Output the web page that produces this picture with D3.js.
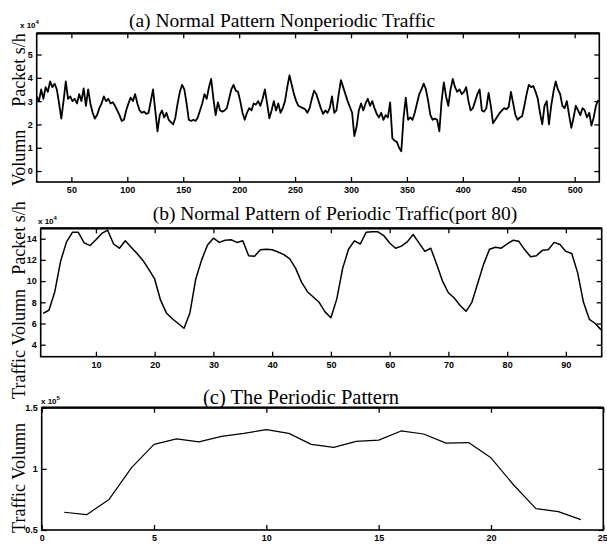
<!DOCTYPE html>
<html><head><meta charset="utf-8">
<script src="https://cdn.jsdelivr.net/npm/d3@7"></script>
<style>body{margin:0;background:#fff}</style>
</head><body><svg id="chart" width="607" height="546"></svg>
<script>
// ---------- DATA ----------
// (a) Normal Pattern Nonperiodic Traffic (x 10^4 packets/h), sampled every 2 time units from 19
const aX = d3.range(19, 522, 2);
const aY = [
 3.2,3.0,3.5,3.1,3.6,3.4,3.85,3.6,3.75,3.5,
 2.9,2.25,3.0,3.85,3.1,3.2,3.0,3.1,2.9,3.3,
 3.0,3.55,2.8,3.5,2.9,2.5,2.25,2.4,2.7,2.9,
 3.2,3.0,3.1,2.9,2.95,2.8,2.6,2.4,2.15,2.2,
 2.6,2.9,3.15,3.0,3.3,2.9,2.6,2.5,2.55,2.45,
 2.5,3.0,3.5,2.6,1.7,2.4,2.6,2.3,2.5,2.2,
 2.1,2.0,2.3,2.9,3.4,3.7,3.5,2.9,2.2,2.15,
 2.2,2.15,2.3,2.6,2.9,3.3,3.1,3.6,3.95,3.1,
 2.4,2.95,2.6,2.55,2.6,2.7,3.1,3.5,3.7,3.45,
 3.4,3.0,2.5,2.2,2.5,2.7,2.6,2.9,2.85,3.0,
 2.8,3.1,3.5,2.9,2.26,2.6,3.0,2.6,2.9,2.5,
 2.7,3.0,3.6,4.1,3.7,3.3,3.0,2.8,2.75,2.7,
 2.65,2.5,2.7,3.1,3.45,3.3,3.0,2.7,2.45,2.6,
 2.5,2.7,3.2,2.5,2.6,3.3,3.9,3.6,3.3,3.0,
 2.75,2.5,1.5,1.9,2.6,2.9,2.6,2.9,3.1,2.8,
 3.0,2.7,2.45,2.3,2.5,2.2,2.4,2.3,2.95,1.4,
 1.3,1.25,1.0,0.85,2.3,3.15,2.2,2.3,2.2,2.5,
 2.9,3.3,3.5,3.75,3.5,3.0,2.4,2.2,2.25,2.2,
 1.7,3.0,3.8,3.2,2.8,3.5,3.95,3.6,3.4,3.5,
 3.3,3.4,3.6,3.0,2.6,2.7,3.0,3.3,3.5,2.6,
 2.55,2.7,3.35,2.8,2.05,2.2,2.35,2.5,2.6,2.7,
 2.65,2.75,3.4,2.9,2.4,2.2,2.3,2.35,2.8,3.3,
 3.7,3.6,3.65,3.4,3.1,2.5,2.0,2.8,3.0,2.0,
 2.8,3.4,3.85,3.5,3.3,2.8,2.7,3.0,2.4,1.85,
 2.3,2.8,2.6,2.4,2.7,2.6,2.3,2.5,1.95,2.3,
 2.8,3.05
];
const aXTicks = [50,100,150,200,250,300,350,400,450,500];
const aYTicks = [0,1,2,3,4,5];

// (b) Normal Pattern of Periodic Traffic (port 80) (x 10^4), hours 1..96
const bX = d3.range(1, 97);
const bY = [
 6.95,7.25,9.0,11.9,13.7,14.6,14.6,13.6,13.35,13.9,
 14.5,14.8,13.5,13.1,13.8,13.2,12.6,11.95,11.1,10.2,
 8.2,7.0,6.45,6.0,5.55,7.0,10.2,12.0,13.4,14.05,
 13.65,13.85,13.9,13.65,13.8,12.4,12.35,12.95,13.0,12.95,
 12.75,12.5,12.1,11.2,9.9,9.0,8.5,8.0,7.1,6.55,
 8.3,11.2,13.0,13.8,13.5,14.6,14.65,14.65,14.3,13.6,
 13.1,13.3,13.7,14.4,13.6,12.8,13.1,11.6,10.0,8.9,
 8.4,7.7,7.15,8.0,9.8,11.6,13.0,13.2,13.1,13.5,
 13.85,13.75,12.95,12.3,12.4,12.9,12.95,13.65,13.45,12.8,
 12.6,10.8,8.0,6.4,6.0,5.4
];
const bXTicks = [10,20,30,40,50,60,70,80,90];
const bYTicks = [4,6,8,10,12,14];

// (c) The Periodic Pattern (x 10^5), hours 1..24
const cX = d3.range(1, 25);
const cY = [0.645,0.625,0.75,1.01,1.2,1.245,1.22,1.265,1.29,1.32,1.29,1.2,
            1.175,1.225,1.235,1.31,1.285,1.21,1.215,1.09,0.87,0.675,0.65,0.585];
const cXTicks = [0,5,10,15,20,25];
const cYTicks = [0.5,1,1.5];

const titles = ["(a) Normal Pattern Nonperiodic Traffic",
                "(b) Normal Pattern of Periodic Traffic(port 80)",
                "(c) The Periodic Pattern"];

// ---------- DRAW ----------
const svg = d3.select("#chart");
svg.append("rect").attr("width",607).attr("height",546).attr("fill","#fff");

const tickFont = "'Liberation Sans', Arial, sans-serif";
const serif = "'Liberation Serif', 'Times New Roman', serif";

function panel(c){
  const x = d3.scaleLinear().domain(c.xDomain).range([c.left, c.right]);
  const y = d3.scaleLinear().domain(c.yDomain).range([c.bottom, c.top]);
  const g = svg.append("g");
  const style = sel => {
    sel.select(".domain").remove();
    sel.selectAll(".tick line").attr("stroke","#000").attr("stroke-width",1.3);
    sel.selectAll("text").attr("font-family",tickFont).attr("font-weight","bold")
       .attr("font-size",c.tickSize).attr("fill","#000");
  };
  const bottomAxis = g.append("g").attr("transform",`translate(0,${c.bottom})`)
    .call(d3.axisBottom(x).tickValues(c.xTicks).tickSize(-5).tickPadding(c.xPad).tickFormat(d3.format("~g"))).call(style);
  // keep a label that sits on the right edge inside the picture
  bottomAxis.selectAll(".tick text").filter(d => x(d) > 598).attr("text-anchor","end").attr("dx",4);
  g.append("g").attr("transform",`translate(0,${c.top})`)
    .call(d3.axisTop(x).tickValues(c.xTicks).tickSize(-5).tickFormat("")).call(style);
  g.append("g").attr("transform",`translate(${c.left},0)`)
    .call(d3.axisLeft(y).tickValues(c.yTicks).tickSize(-5).tickPadding(4).tickFormat(d3.format("~g"))).call(style);
  g.append("g").attr("transform",`translate(${c.right},0)`)
    .call(d3.axisRight(y).tickValues(c.yTicks).tickSize(-5).tickFormat("")).call(style);

  g.append("rect").attr("x",c.left).attr("y",c.top)
    .attr("width",c.right-c.left).attr("height",c.bottom-c.top)
    .attr("fill","none").attr("stroke","#000").attr("stroke-width",1.6);
  g.append("line").attr("x1",c.left).attr("x2",c.right).attr("y1",c.top).attr("y2",c.top)
    .attr("stroke","#000").attr("stroke-width",2.2);

  const pts = c.xs.map((v,i)=>[v,c.ys[i]]);
  g.append("path").datum(pts)
    .attr("d", d3.line().x(d=>x(d[0])).y(d=>y(d[1])))
    .attr("fill","none").attr("stroke","#000").attr("stroke-width",c.lw)
    .attr("stroke-linejoin","round");

  // title
  g.append("text").attr("x",c.titleX).attr("y",c.titleY).attr("text-anchor","middle")
    .attr("font-family",serif).attr("font-size",c.titleSize).attr("fill","#000").text(c.title);
  // exponent
  const e = g.append("text").attr("x",c.expX).attr("y",c.expY)
    .attr("font-family",tickFont).attr("font-weight","bold").attr("font-size",8).attr("fill","#000");
  e.append("tspan").text("x 10");
  e.append("tspan").attr("dy",-4).attr("font-size",6).text(c.exp);
}

panel({xDomain:[19,522], yDomain:[-0.47,5.91], left:36.7, right:599.3, top:33.3, bottom:182,
       xTicks:aXTicks, yTicks:aYTicks, xs:aX, ys:aY, lw:1.8, tickSize:9, xPad:5,
       title:titles[0], titleX:282, titleY:27, titleSize:19.5, expX:20, expY:28, exp:"4"});
panel({xDomain:[0.6,96.1], yDomain:[2.87,14.98], left:40.7, right:601.7, top:228.3, bottom:356.7,
       xTicks:bXTicks, yTicks:bYTicks, xs:bX, ys:bY, lw:1.5, tickSize:9, xPad:5,
       title:titles[1], titleX:335, titleY:220, titleSize:19.5, expX:38, expY:224, exp:"4"});
panel({xDomain:[0,25], yDomain:[0.5,1.5], left:41.7, right:603.3, top:407.7, bottom:530,
       xTicks:cXTicks, yTicks:cYTicks, xs:cX, ys:cY, lw:1.2, tickSize:9, xPad:5,
       title:titles[2], titleX:301, titleY:404, titleSize:20.5, expX:41, expY:404, exp:"5"});

// y-axis labels (rotated)
function ylab(txt, xc, yc){
  svg.append("text").attr("transform",`translate(${xc},${yc}) rotate(-90)`)
    .attr("text-anchor","middle").attr("font-family",serif).attr("font-size",18)
    .attr("fill","#000").text(txt);
}
ylab("Packet s/h", 25, 70);
ylab("Volumn", 25, 158);
ylab("Packet s/h", 25, 238);
ylab("Traffic Volumn", 25, 344);
ylab("Traffic Volumn", 25, 478);
</script>
</body></html>
